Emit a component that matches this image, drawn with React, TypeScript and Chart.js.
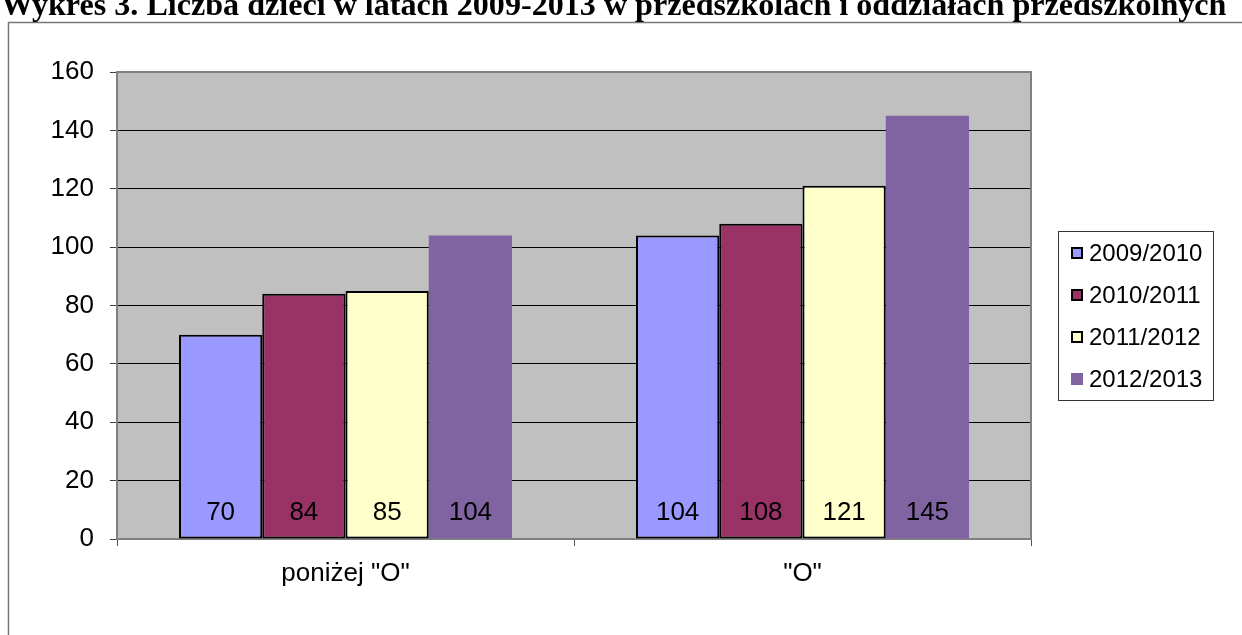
import React, { useEffect, useRef } from 'react';
import { Chart, registerables } from 'chart.js';

Chart.register(...registerables);

const TITLE = 'Wykres 3. Liczba dzieci w latach 2009-2013 w przedszkolach i oddziałach przedszkolnych';
const categories = ['poniżej "O"', '"O"'];
const seriesLabels = ['2009/2010', '2010/2011', '2011/2012', '2012/2013'];
const values2009 = [70, 104];
const values2010 = [84, 108];
const values2011 = [85, 121];
const values2012 = [104, 145];
const seriesValues = [values2009, values2010, values2011, values2012];
const seriesColors = ['#9999FF', '#993366', '#FFFFCC', '#8064A2'];
const seriesBorders = [2, 2, 2, 0];
const yMin = 0;
const yMax = 160;
const yStep = 20;

const SANS = '"Liberation Sans", Arial, sans-serif';

const framePlugin = {
  id: 'frame',
  beforeDraw(chart: any) {
    const { ctx, chartArea: a, width, height } = chart;
    ctx.save();
    ctx.fillStyle = '#ffffff';
    ctx.fillRect(0, 0, width, height);
    // outer border
    ctx.strokeStyle = '#777777';
    ctx.lineWidth = 1.5;
    ctx.strokeRect(8.5, 22.5, width + 20, height + 20);
    // title
    ctx.fillStyle = '#000000';
    const target = 1226;
    ctx.font = 'bold 100px "Liberation Serif", serif';
    const w100 = ctx.measureText(TITLE).width;
    const size = (100 * target) / w100;
    ctx.font = `bold ${size}px "Liberation Serif", serif`;
    ctx.textBaseline = 'alphabetic';
    ctx.textAlign = 'left';
    ctx.fillText(TITLE, 1, 15);
    // plot background
    ctx.fillStyle = '#C0C0C0';
    ctx.fillRect(a.left, a.top, a.right - a.left, a.bottom - a.top);
    ctx.restore();
  },
  beforeDatasetsDraw(chart: any) {
    const { ctx, chartArea: a } = chart;
    ctx.save();
    ctx.strokeStyle = '#808080';
    ctx.lineWidth = 2;
    ctx.strokeRect(a.left, a.top, a.right - a.left, a.bottom - a.top);
    ctx.restore();
  },
  afterDatasetsDraw(chart: any) {
    const { ctx } = chart;
    const zeroY = chart.scales.y.getPixelForValue(0);
    ctx.save();
    ctx.fillStyle = '#000000';
    ctx.font = `26px ${SANS}`;
    ctx.textAlign = 'center';
    ctx.textBaseline = 'middle';
    chart.data.datasets.forEach((ds: any, i: number) => {
      const meta = chart.getDatasetMeta(i);
      meta.data.forEach((el: any, j: number) => {
        ctx.fillText(String(ds.data[j]), el.x, zeroY - 26);
      });
    });
    // legend
    const lx = 1058.5, ly = 231.5, lw = 155, lh = 169;
    ctx.fillStyle = '#ffffff';
    ctx.fillRect(lx, ly, lw, lh);
    ctx.strokeStyle = '#333333';
    ctx.lineWidth = 1;
    ctx.strokeRect(lx, ly, lw, lh);
    ctx.font = `24px ${SANS}`;
    ctx.textAlign = 'left';
    chart.data.datasets.forEach((ds: any, i: number) => {
      const cy = 253 + i * 42;
      ctx.fillStyle = ds.backgroundColor;
      ctx.fillRect(1071, cy - 6, 12, 12);
      if (ds.borderWidth > 0) {
        ctx.strokeStyle = '#000000';
        ctx.lineWidth = 2;
        ctx.strokeRect(1072, cy - 5, 10, 10);
      }
      ctx.fillStyle = '#000000';
      ctx.fillText(ds.label, 1089, cy + 1);
    });
    ctx.restore();
  },
};

export default function App() {
  const ref = useRef<HTMLCanvasElement | null>(null);
  useEffect(() => {
    if (!ref.current) return;
    const chart = new Chart(ref.current, {
      type: 'bar',
      data: {
        labels: categories,
        datasets: seriesLabels.map((label, i) => ({
          label,
          data: seriesValues[i],
          backgroundColor: seriesColors[i],
          borderColor: '#000000',
          borderWidth: seriesBorders[i],
          borderSkipped: false,
          categoryPercentage: 0.7287,
          barPercentage: 1,
        })),
      },
      options: {
        responsive: false,
        animation: false,
        devicePixelRatio: 1,
        layout: { padding: { left: 0, top: 72, right: 211, bottom: 0 } },
        plugins: {
          legend: { display: false },
          title: { display: false },
          tooltip: { enabled: false },
        },
        scales: {
          x: {
            offset: true,
            grid: {
              drawOnChartArea: false,
              drawTicks: true,
              tickLength: 7,
              tickColor: '#505050',
              lineWidth: 1,
            },
            border: { display: false },
            ticks: {
              color: '#000000',
              font: { family: SANS, size: 26 },
              padding: 12,
              maxRotation: 0,
            },
            afterFit(scale: any) {
              scale.height = 96;
            },
          },
          y: {
            min: yMin,
            max: yMax,
            grid: {
              color: '#000000',
              lineWidth: 1,
              tickLength: 7,
              tickColor: '#404040',
            },
            border: { display: false },
            ticks: {
              stepSize: yStep,
              color: '#000000',
              font: { family: SANS, size: 26 },
              padding: 16,
            },
            afterFit(scale: any) {
              scale.width = 117;
            },
          },
        },
      },
      plugins: [framePlugin],
    });
    return () => chart.destroy();
  }, []);
  return (
    <div style={{ position: 'absolute', left: 0, top: 0, width: 1242, height: 635 }}>
      <canvas ref={ref} width={1242} height={635} style={{ display: 'block', width: 1242, height: 635 }} />
    </div>
  );
}
